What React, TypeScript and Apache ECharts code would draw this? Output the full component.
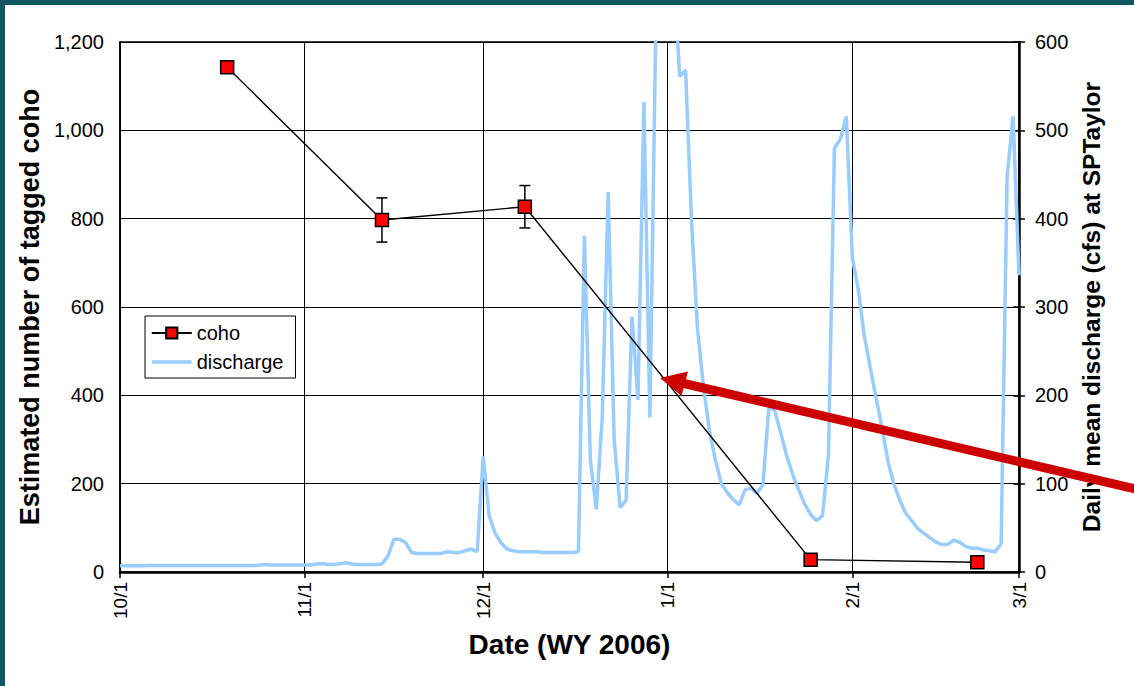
import React, { useEffect, useRef } from "react";
import * as echarts from "echarts";

const FONT = '"Liberation Sans", Arial, Helvetica, sans-serif';

// Daily categories from 10/1/2005 to 3/1/2006
const categories: string[] = [];
for (let i = 0; i < 152; i++) {
  const d = new Date(2005, 9, 1 + i);
  categories.push(`${d.getMonth() + 1}/${d.getDate()}`);
}

// Daily mean discharge (cfs) at SPTaylor
const dischargeOct = [7, 7, 7, 7, 7, 7.5, 7.5, 7.5, 7.5, 7.5, 7.5, 7.5, 7.5, 7.5, 7.5, 7.5, 7.5, 7.5, 7.5, 7.5, 7.5, 7.5, 7.5, 7.5, 8.5, 8, 8, 8, 8, 8, 8];
const dischargeNov = [8, 8, 9, 9.5, 8.5, 8.5, 9.5, 10.5, 9, 8.5, 8.5, 8.5, 8.5, 9, 18, 37, 37, 33, 22, 21, 21, 21, 21, 21, 23, 22, 22, 24, 26, 23];
const dischargeDec = [131, 64, 44, 33, 26, 24, 23, 23, 23, 23, 22, 22, 22, 22, 22, 22, 23, 381, 127, 71, 175, 430, 150, 73, 81, 289, 195, 532, 175, 620, 850];
const dischargeJan = [900, 680, 561, 568, 397, 275, 210, 160, 127, 100, 90, 82, 76, 93, 95, 89, 99, 188, 182, 157, 131, 110, 93, 77, 65, 58, 64, 133, 480, 490, 516];
const dischargeFeb = [356, 320, 268, 232, 197, 163, 125, 99, 81, 66, 58, 49, 44, 39, 34, 31, 31, 36, 34, 29, 27, 27, 25, 24, 23, 32, 447, 516];
const dischargeMar = [336];
const discharge = [...dischargeOct, ...dischargeNov, ...dischargeDec, ...dischargeJan, ...dischargeFeb, ...dischargeMar];

// Estimated number of tagged coho
const cohoDates = ["10/19", "11/14", "12/8", "1/25", "2/22"];
const cohoValues = [1143, 797, 827, 28, 22];
const cohoErrLow: (number | null)[] = [null, 747, 779, null, null];
const cohoErrHigh: (number | null)[] = [null, 847, 875, null, null];

const leftTicks = { min: 0, max: 1200, interval: 200 };
const rightTicks = { min: 0, max: 600, interval: 100 };

const isMonthStart = (_i: number, v: string) => v.endsWith("/1");

export default function App() {
  const ref = useRef<HTMLDivElement>(null);
  useEffect(() => {
    if (!ref.current) return;
    const chart = echarts.init(ref.current, null, { renderer: "svg" });
    const cohoData = cohoDates.map((d, i) => [categories.indexOf(d), cohoValues[i]]);
    const errData = cohoDates
      .map((d, i) => [categories.indexOf(d), cohoErrLow[i], cohoErrHigh[i]])
      .filter((r) => r[1] != null);
    chart.setOption({
      animation: false,
      backgroundColor: "#ffffff",
      textStyle: { fontFamily: FONT, color: "#000" },
      grid: { left: 120, right: 115, top: 42, bottom: 114, show: true, borderColor: "#000", borderWidth: 1.5, backgroundColor: "#fff" },
      legend: {
        data: [
          "coho",
          { name: "discharge", itemStyle: { opacity: 0 }, lineStyle: { width: 3.5, color: "#99ccff" } },
        ],
        orient: "vertical",
        left: 145,
        top: 316,
        backgroundColor: "#fff",
        borderColor: "#000",
        borderWidth: 1,
        borderRadius: 0,
        padding: [7, 12, 6, 5],
        itemGap: 9,
        itemWidth: 40,
        itemHeight: 14,
        textStyle: { fontSize: 20, color: "#000", fontFamily: FONT },
      },
      xAxis: {
        type: "category",
        data: categories,
        boundaryGap: false,
        axisLine: { lineStyle: { color: "#000", width: 2.5 } },
        axisTick: { show: true, interval: isMonthStart, length: 6, lineStyle: { color: "#000", width: 1.5 } },
        axisLabel: { interval: isMonthStart, rotate: 90, fontSize: 19, color: "#000", margin: 10, fontFamily: FONT },
        splitLine: { show: true, interval: isMonthStart, lineStyle: { color: "#000", width: 1 } },
        name: "Date (WY 2006)",
        nameLocation: "middle",
        nameGap: 58,
        nameTextStyle: { fontSize: 28, fontWeight: "bold", color: "#000", fontFamily: FONT },
      },
      yAxis: [
        {
          type: "value",
          position: "left",
          ...leftTicks,
          axisLine: { show: true, lineStyle: { color: "#000", width: 1.5 } },
          axisTick: { show: false },
          axisLabel: { fontSize: 20, color: "#000", margin: 16, fontFamily: FONT, formatter: (v: number) => v.toLocaleString("en-US") },
          splitLine: { show: true, lineStyle: { color: "#000", width: 1 } },
          name: "Estimated number of tagged coho",
          nameLocation: "middle",
          nameRotate: 90,
          nameGap: 72,
          nameTextStyle: { fontSize: 27, fontWeight: "bold", color: "#000", fontFamily: FONT },
        },
        {
          type: "value",
          position: "right",
          ...rightTicks,
          axisLine: { show: true, lineStyle: { color: "#000", width: 2.5 } },
          axisTick: { show: true, length: 6, lineStyle: { color: "#000", width: 1.5 } },
          axisLabel: { fontSize: 20, color: "#000", margin: 16, fontFamily: FONT },
          splitLine: { show: false },
          name: "Daily mean discharge (cfs) at SPTaylor",
          nameLocation: "middle",
          nameRotate: 90,
          nameGap: 58,
          nameTextStyle: { fontSize: 24.5, fontWeight: "bold", color: "#000", fontFamily: FONT },
        },
        {
          type: "value",
          position: "right",
          ...rightTicks,
          axisLine: { show: false },
          axisTick: { show: true, inside: true, length: 6, lineStyle: { color: "#000", width: 1.5 } },
          axisLabel: { show: false },
          splitLine: { show: false },
        },
      ],
      series: [
        {
          name: "discharge",
          type: "line",
          yAxisIndex: 1,
          data: discharge,
          symbol: "none",
          showSymbol: false,
          clip: true,
          lineStyle: { color: "#99ccff", width: 3.5 },
          itemStyle: { color: "#99ccff" },
          z: 2,
        },
        {
          name: "errorbars",
          type: "custom",
          yAxisIndex: 0,
          data: errData,
          encode: { x: 0, y: [1, 2] },
          z: 3,
          renderItem: (_p: any, api: any) => {
            const x = api.value(0);
            const lo = api.coord([x, api.value(1)]);
            const hi = api.coord([x, api.value(2)]);
            const w = 5.5;
            const st = { stroke: "#000", lineWidth: 1.5 };
            return {
              type: "group",
              children: [
                { type: "line", shape: { x1: lo[0], y1: lo[1], x2: hi[0], y2: hi[1] }, style: st },
                { type: "line", shape: { x1: lo[0] - w, y1: lo[1], x2: lo[0] + w, y2: lo[1] }, style: st },
                { type: "line", shape: { x1: hi[0] - w, y1: hi[1], x2: hi[0] + w, y2: hi[1] }, style: st },
              ],
            };
          },
        },
        {
          name: "coho",
          type: "line",
          yAxisIndex: 0,
          data: cohoData,
          symbol: "rect",
          symbolSize: 13,
          showSymbol: true,
          showAllSymbol: true,
          lineStyle: { color: "#000", width: 1.4 },
          itemStyle: { color: "#ff0000", borderColor: "#000", borderWidth: 1.5 },
          z: 4,
        },
      ],
      graphic: [
        { type: "rect", shape: { x: 0, y: 0, width: 1134, height: 5 }, style: { fill: "#115660" }, z: 100 },
        { type: "rect", shape: { x: 0, y: 0, width: 5, height: 686 }, style: { fill: "#115660" }, z: 100 },
        { type: "line", shape: { x1: 682, y1: 383, x2: 1140, y2: 490 }, style: { stroke: "#cc0000", lineWidth: 9 }, z: 100 },
        { type: "polygon", shape: { points: [[660, 378], [688, 371.5], [681.5, 396]] }, style: { fill: "#cc0000" }, z: 100 },
      ],
    });
    return () => chart.dispose();
  }, []);
  return <div ref={ref} style={{ position: "absolute", left: 0, top: 0, width: 1134, height: 686 }} />;
}
